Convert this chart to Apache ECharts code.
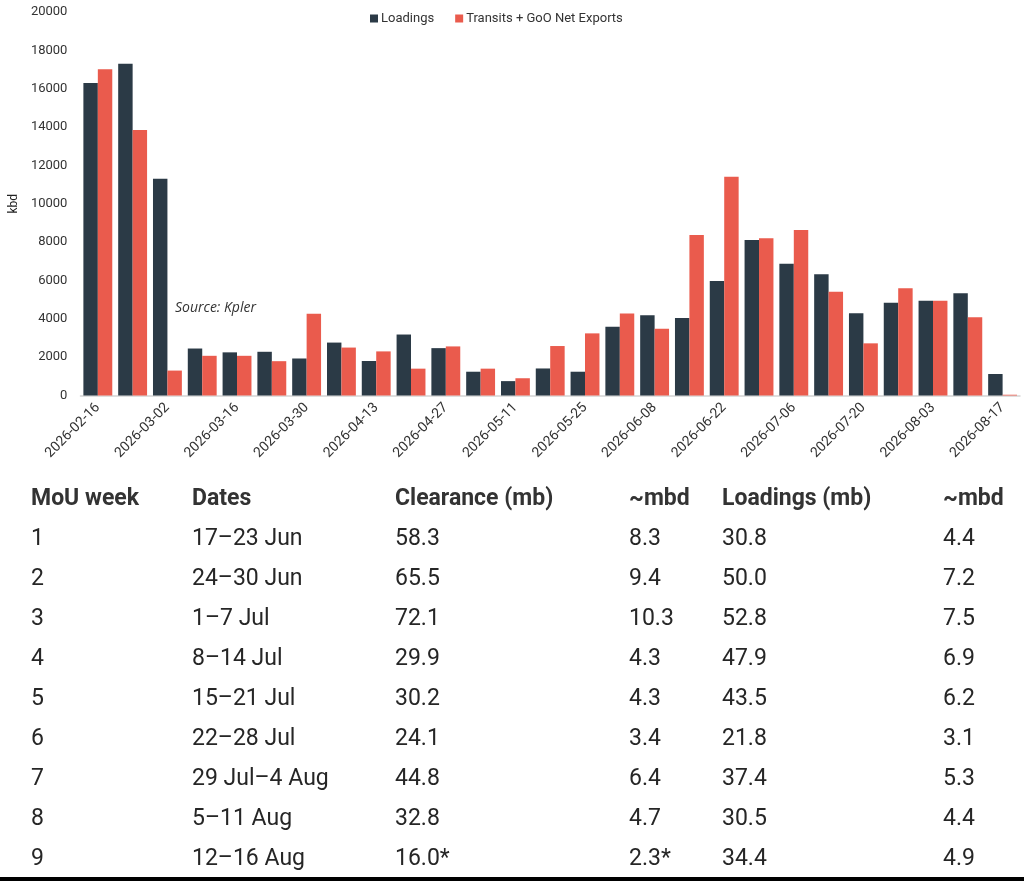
<!DOCTYPE html>
<html>
<head>
<meta charset="utf-8">
<script src="https://cdn.jsdelivr.net/npm/echarts@6/dist/echarts.min.js"></script>
<style>
  html, body { margin: 0; padding: 0; background: #fff; }
  #wrap { position: relative; width: 1024px; height: 881px; overflow: hidden; background: #fff; }
  #chart { position: absolute; left: 0; top: 0; width: 1024px; height: 881px; }
  .cell { position: absolute; font-family: Roboto, "Noto Sans", sans-serif; font-size: 23px; line-height: 28px; color: #262626; white-space: nowrap; }
  .hdr { font-weight: 700; color: #333; }
  #strip { position: absolute; left: 0; top: 877px; width: 1024px; height: 4px; background: #000; }
</style>
</head>
<body>
<div id="wrap">
  <div id="chart"></div>
  <div id="table"></div>
  <div id="strip"></div>
</div>
<script>
// ---- chart data ----
var categories = ['2026-02-16','2026-02-23','2026-03-02','2026-03-09','2026-03-16','2026-03-23','2026-03-30',
  '2026-04-06','2026-04-13','2026-04-20','2026-04-27','2026-05-04','2026-05-11','2026-05-18','2026-05-25',
  '2026-06-01','2026-06-08','2026-06-15','2026-06-22','2026-06-29','2026-07-06','2026-07-13','2026-07-20',
  '2026-07-27','2026-08-03','2026-08-10','2026-08-17'];
var loadings = [16300,17300,11300,2450,2250,2280,1930,2760,1800,3180,2470,1240,750,1410,1240,3590,4180,4040,5970,8110,6870,6320,4290,4840,4940,5330,1120];
var transits = [17010,13850,1300,2070,2070,1790,4260,2500,2300,1400,2560,1400,900,2580,3240,4270,3480,8370,11410,8200,8630,5410,2720,5590,4940,4080,40];
var seriesNames = ['Loadings', 'Transits + GoO Net Exports'];
var yAxisName = 'kbd';
var sourceNote = 'Source: Kpler';

// ---- table data ----
var tableHeaders = ['MoU week', 'Dates', 'Clearance (mb)', '~mbd', 'Loadings (mb)', '~mbd'];
var mouWeeks = ['1','2','3','4','5','6','7','8','9'];
var weekDates = ['17\u201323 Jun','24\u201330 Jun','1\u20137 Jul','8\u201314 Jul','15\u201321 Jul','22\u201328 Jul','29 Jul\u20134 Aug','5\u201311 Aug','12\u201316 Aug'];
var clearanceMb = ['58.3','65.5','72.1','29.9','30.2','24.1','44.8','32.8','16.0*'];
var clearanceMbd = ['8.3','9.4','10.3','4.3','4.3','3.4','6.4','4.7','2.3*'];
var loadingsMb = ['30.8','50.0','52.8','47.9','43.5','21.8','37.4','30.5','34.4'];
var loadingsMbd = ['4.4','7.2','7.5','6.9','6.2','3.1','5.3','4.4','4.9'];

// ---- build table ----
(function () {
  var colX = [31, 192, 395, 629, 722, 943];
  var headerY = 498, rowY0 = 538, rowStep = 40;
  var cols = [mouWeeks, weekDates, clearanceMb, clearanceMbd, loadingsMb, loadingsMbd];
  var t = document.getElementById('table');
  function add(text, x, yc, cls) {
    var d = document.createElement('div');
    d.className = 'cell' + (cls ? ' ' + cls : '');
    d.style.left = x + 'px';
    d.style.top = (yc - 14) + 'px';
    d.textContent = text;
    t.appendChild(d);
  }
  tableHeaders.forEach(function (h, c) { add(h, colX[c], headerY, 'hdr'); });
  for (var r = 0; r < mouWeeks.length; r++) {
    for (var c = 0; c < cols.length; c++) add(cols[c][r], colX[c], rowY0 + r * rowStep);
  }
})();

// ---- chart ----
var chart = echarts.init(document.getElementById('chart'), null, { renderer: 'canvas' });
chart.setOption({
  animation: false,
  textStyle: { fontFamily: 'Roboto, "Noto Sans", sans-serif' },
  legend: {
    left: 365, top: 7,
    itemWidth: 8, itemHeight: 8, itemGap: 21,
    icon: 'rect',
    textStyle: { fontSize: 13, color: '#333', padding: [0, 0, 0, -2] },
    data: seriesNames
  },
  grid: { left: 75, right: 4, top: 12, bottom: 485.5, containLabel: false },
  xAxis: {
    type: 'category',
    data: categories,
    axisLine: { lineStyle: { color: '#d4d4d4', width: 1.5 } },
    axisTick: { show: false },
    axisLabel: { rotate: 45, interval: 1, fontSize: 14, color: '#333', margin: 10 }
  },
  yAxis: {
    type: 'value',
    min: 0, max: 20000, interval: 2000,
    name: yAxisName,
    nameLocation: 'middle',
    nameGap: 58,
    nameTextStyle: { fontSize: 12, color: '#222' },
    axisLine: { show: false },
    axisTick: { show: false },
    splitLine: { show: false },
    axisLabel: { fontSize: 13, color: '#333', margin: 13, formatter: function (v) { return String(v); } }
  },
  graphic: [{
    type: 'text',
    left: 175, top: 301,
    style: { text: sourceNote, font: 'italic 14px "Open Sans", sans-serif', fill: '#333' }
  }],
  series: [
    { name: seriesNames[0], type: 'bar', data: loadings, barGap: '0%', barCategoryGap: '17%',
      itemStyle: { color: '#2b3a46' } },
    { name: seriesNames[1], type: 'bar', data: transits, barGap: '0%', barCategoryGap: '17%',
      itemStyle: { color: '#ea5b4d' } }
  ]
});
</script>
</body>
</html>
